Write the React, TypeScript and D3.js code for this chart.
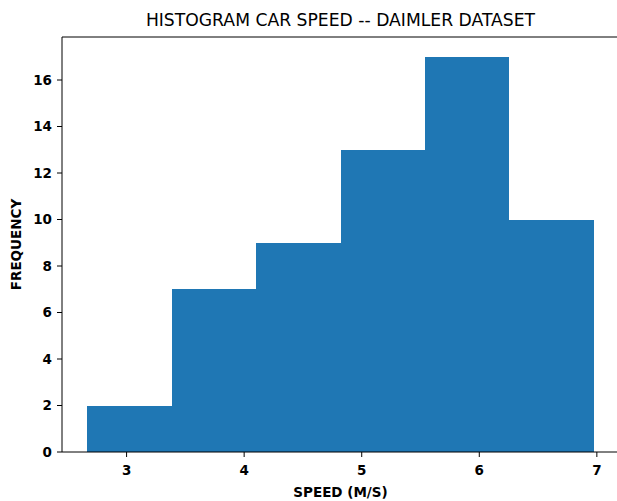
import React from "react";
import * as d3 from "d3";

const binEdges = [2.666, 3.384, 4.102, 4.82, 5.537, 6.255, 6.973];
const counts = [2, 7, 9, 13, 17, 10];
const xTicks = [3, 4, 5, 6, 7];
const yTicks = [0, 2, 4, 6, 8, 10, 12, 14, 16];
const title = "HISTOGRAM CAR SPEED -- DAIMLER DATASET";
const xLabel = "SPEED (M/S)";
const yLabel = "FREQUENCY";

const W = 617;
const H = 501;
const left = 62;
const right = 619;
const top = 37;
const bottom = 452;
const font = "'DejaVu Sans', sans-serif";

export default function App() {
  const span = binEdges[binEdges.length - 1] - binEdges[0];
  const x = d3
    .scaleLinear()
    .domain([binEdges[0] - span * 0.05, binEdges[binEdges.length - 1] + span * 0.05])
    .range([left, right]);
  const yMax = (d3.max(counts) as number) * 1.05;
  const y = d3.scaleLinear().domain([0, yMax]).range([bottom, top]);

  return (
    <svg
      width={W}
      height={H}
      style={{ position: "absolute", left: 0, top: 0, background: "#fff" }}
      fontFamily={font}
    >
      {counts.map((c, i) => (
        <rect
          key={i}
          x={Math.round(x(binEdges[i]))}
          y={Math.round(y(c))}
          width={Math.round(x(binEdges[i + 1])) - Math.round(x(binEdges[i]))}
          height={Math.round(y(0)) - Math.round(y(c))}
          fill="#1f77b4"
          shapeRendering="crispEdges"
        />
      ))}
      {/* spines */}
      <line x1={left} x2={left} y1={top} y2={bottom} stroke="#000" strokeWidth={1} />
      <line x1={left} x2={right} y1={bottom} y2={bottom} stroke="#000" strokeWidth={1} />
      <line x1={left} x2={right} y1={top} y2={top} stroke="#000" strokeWidth={1} />
      {/* y ticks */}
      {yTicks.map((t) => (
        <g key={t} transform={`translate(0,${y(t)})`}>
          <line x1={left - 5} x2={left} stroke="#000" strokeWidth={1} />
          <text
            x={left - 10}
            dy="0.36em"
            textAnchor="end"
            fontSize={13.5}
            fontWeight="bold"
            fill="#000"
          >
            {t}
          </text>
        </g>
      ))}
      {/* x ticks */}
      {xTicks.map((t) => (
        <g key={t} transform={`translate(${x(t)},0)`}>
          <line y1={bottom} y2={bottom + 5} stroke="#000" strokeWidth={1} />
          <text
            y={475}
            textAnchor="middle"
            fontSize={13.5}
            fontWeight="bold"
            fill="#000"
          >
            {t}
          </text>
        </g>
      ))}
      <text
        x={(left + right) / 2}
        y={497}
        textAnchor="middle"
        fontSize={13.5}
        fontWeight="bold"
        fill="#000"
      >
        {xLabel}
      </text>
      <text
        transform={`translate(21,${(top + bottom) / 2}) rotate(-90)`}
        textAnchor="middle"
        fontSize={13.5}
        fontWeight="bold"
        fill="#000"
      >
        {yLabel}
      </text>
      <text
        x={(left + right) / 2}
        y={25.5}
        textAnchor="middle"
        fontSize={17.2}
        fill="#000"
      >
        {title}
      </text>
    </svg>
  );
}
